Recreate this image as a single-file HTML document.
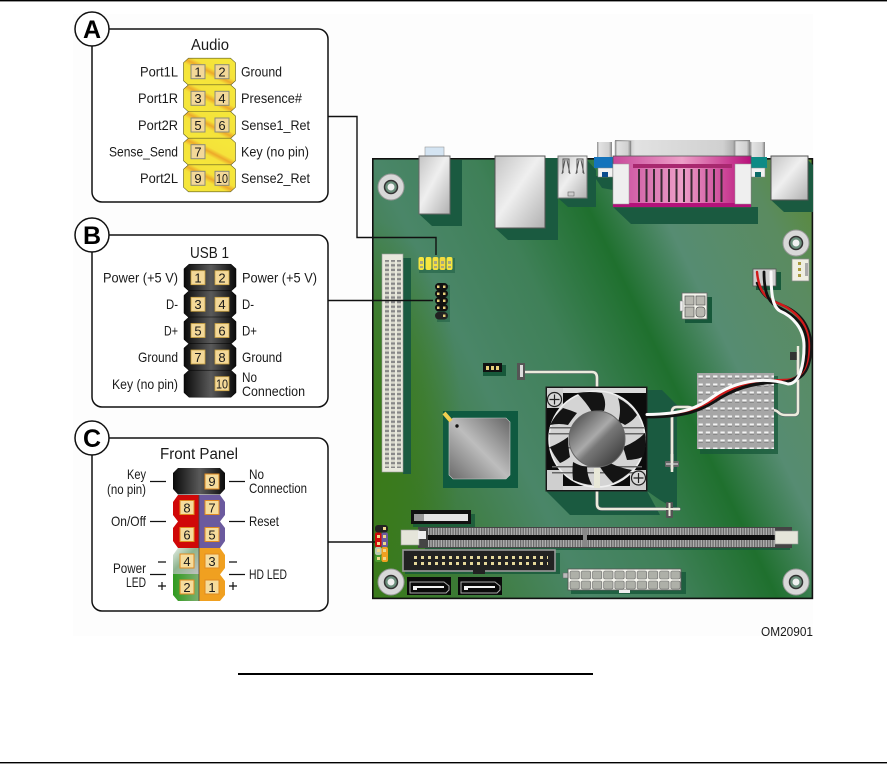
<!DOCTYPE html>
<html><head><meta charset="utf-8"><style>
html,body{margin:0;padding:0;background:#fff}
svg{display:block}
text{font-family:"Liberation Sans",sans-serif;fill:#1a1a1a}
.l{font-size:14px}
.t{font-size:15.5px}
.p{font-size:13px;text-anchor:middle}
.c{font-size:25px;font-weight:bold;text-anchor:middle;fill:#000}
</style></head><body>
<svg width="887" height="764" viewBox="0 0 887 764" xmlns="http://www.w3.org/2000/svg">
<defs>
<linearGradient id="board" gradientUnits="userSpaceOnUse" x1="372" y1="599" x2="902" y2="342">
<stop offset="0" stop-color="#3a7a1e"/><stop offset=".14" stop-color="#3b7a34"/><stop offset=".33" stop-color="#4a8668"/><stop offset=".48" stop-color="#3f8058"/><stop offset=".62" stop-color="#1f702e"/><stop offset=".73" stop-color="#568c72"/><stop offset=".89" stop-color="#5a8b60"/><stop offset="1" stop-color="#5a8a30"/>
</linearGradient>
<radialGradient id="leftg" gradientUnits="userSpaceOnUse" cx="0" cy="0" r="1" gradientTransform="translate(372 430) scale(90 210)"><stop offset="0" stop-color="#3a7a12" stop-opacity=".85"/><stop offset=".6" stop-color="#3a7a12" stop-opacity=".45"/><stop offset="1" stop-color="#3a7a12" stop-opacity="0"/></radialGradient>
<linearGradient id="metal" x1="0" y1="0" x2="1" y2="1"><stop offset="0" stop-color="#c4c4c4"/><stop offset=".45" stop-color="#efefef"/><stop offset="1" stop-color="#b0b0b0"/></linearGradient>
<linearGradient id="chipg" x1="0" y1="1" x2="1" y2="0"><stop offset="0" stop-color="#6a6a6a"/><stop offset=".5" stop-color="#bdbdbd"/><stop offset="1" stop-color="#666"/></linearGradient>
<linearGradient id="hub" x1="0" y1="0" x2="1" y2="1"><stop offset="0" stop-color="#3a3a3a"/><stop offset=".45" stop-color="#aaa"/><stop offset=".55" stop-color="#777"/><stop offset="1" stop-color="#2c2c2c"/></linearGradient>
<linearGradient id="yel" x1=".2" y1=".8" x2=".8" y2=".2"><stop offset="0" stop-color="#f5e63a"/><stop offset=".36" stop-color="#f5e23a"/><stop offset=".5" stop-color="#eda92a"/><stop offset=".64" stop-color="#f5e23a"/><stop offset="1" stop-color="#f5e63a"/></linearGradient>
<linearGradient id="blk" x1="0" y1="0" x2="1" y2="0"><stop offset="0" stop-color="#0a0a0a"/><stop offset=".52" stop-color="#5a5a5a"/><stop offset="1" stop-color="#0a0a0a"/></linearGradient>
<linearGradient id="gw" x1="0" y1="0" x2="1" y2="1"><stop offset="0" stop-color="#e6eee6"/><stop offset=".45" stop-color="#8fb58f"/><stop offset="1" stop-color="#c2c2c2"/></linearGradient>
<linearGradient id="gg" x1="0" y1="0" x2="1" y2="0"><stop offset="0" stop-color="#2f9a1e"/><stop offset="1" stop-color="#7eaf70"/></linearGradient>
<linearGradient id="mag" x1="0" y1="0" x2="1" y2="0"><stop offset="0" stop-color="#c8489a"/><stop offset=".5" stop-color="#eda0c8"/><stop offset="1" stop-color="#b8107a"/></linearGradient>
<linearGradient id="top" x1="0" y1="0" x2="1" y2="0"><stop offset="0" stop-color="#8a8a8a"/><stop offset=".15" stop-color="#e2e2e2"/><stop offset=".8" stop-color="#d0d0d0"/><stop offset="1" stop-color="#808080"/></linearGradient>
<polygon id="row" points="-21,-13.5 21,-13.5 26,-9 26,9 21,13.5 -21,13.5 -26,9 -26,-9"/>
<pattern id="hs" patternUnits="userSpaceOnUse" x="697" y="373" width="7.3" height="8">
<rect width="7.3" height="8" fill="#a6a6a6"/><rect x="1.5" y="2.5" width="4.3" height="2.2" fill="#f4f4f4"/><rect x="1.5" y="4.7" width="4.3" height=".8" fill="#6a6a6a"/></pattern>
<pattern id="pci" patternUnits="userSpaceOnUse" x="0" y="254" width="4" height="4.6">
<rect width="4" height="4.6" fill="#d8d8cc"/><rect y="1" width="4" height="2.2" fill="#888"/></pattern>
<pattern id="dm" patternUnits="userSpaceOnUse" x="0" y="0" width="2.6" height="5">
<rect width="2.6" height="5" fill="#b0b0b0"/><rect width="1.3" height="5" fill="#6a6a6a"/></pattern>
<pattern id="ide" patternUnits="userSpaceOnUse" x="414" y="555" width="7" height="6">
<rect x="0" y="1" width="3" height="3" fill="#e5d79a"/></pattern>
<pattern id="atx" patternUnits="userSpaceOnUse" x="569" y="570" width="11.2" height="10">
<rect width="11.2" height="10" fill="#f4f4ec"/><rect x="1" y="1" width="9.4" height="8" rx="1.5" fill="#aeb0a8" stroke="#666" stroke-width=".6"/></pattern>
</defs>

<rect width="887" height="764" fill="#fff"/>
<rect x="73" y="14" width="740" height="622" fill="#fdfdfd"/>
<rect x="0" y="0" width="887" height="1.4" fill="#000"/>
<rect x="0" y="762" width="887" height="1.4" fill="#000"/>
<rect x="238" y="673" width="355" height="2" fill="#000"/>

<!-- rear top parts -->
<rect x="425" y="147" width="19" height="10" fill="#d4e4f2" stroke="#999" stroke-width=".6"/>
<rect x="597" y="142" width="15" height="15" fill="url(#top)"/>
<rect x="750" y="142" width="15" height="15" fill="url(#top)"/>
<rect x="615" y="140" width="135" height="17" fill="url(#top)"/>
<rect x="615" y="141" width="16" height="16" fill="url(#top)" stroke="#888" stroke-width=".4"/>
<rect x="734" y="141" width="16" height="16" fill="url(#top)" stroke="#888" stroke-width=".4"/>

<!-- board -->
<rect x="372" y="158" width="441" height="441" fill="url(#board)"/>
<rect x="372" y="220" width="100" height="379" fill="url(#leftg)"/>
<rect x="372.8" y="158.8" width="439.6" height="439.6" fill="none" stroke="#111" stroke-width="1.6"/>

<!-- shadows -->
<g fill="#1a5a40">
<polygon points="450,160 462,160 462,226 432,226 419,214 450,214"/>
<polygon points="545,158 558,158 558,240 508,240 495,228 545,228"/>
<polygon points="587,160 596,170 596,207 568,207 558,198 587,198"/>
<polygon points="613,207 751,207 758,207 758,224 631,224"/>
<polygon points="594,176 613,176 613,190 602,188"/>
<polygon points="808,160 813,165 813,212 784,212 771,200 808,200"/>
<rect x="403" y="258" width="8" height="216"/>
<polygon points="647,390 662,390 677,405 677,510 660,500 647,491"/>
<polygon points="546,491 647,491 660,515 570,515"/>
</g>
<g fill="#17583a">
<rect x="685" y="297" width="27" height="26"/>
<rect x="756" y="272" width="25" height="18"/>
<rect x="700" y="376" width="78" height="78" opacity=".75"/>
<rect x="413" y="514" width="62" height="13" opacity=".8"/>
<rect x="405" y="553" width="155" height="21" opacity=".8"/>
<rect x="571" y="572" width="115" height="22" opacity=".8"/>
<rect x="425" y="546" width="365" height="4" opacity=".8"/>
<rect x="483" y="365" width="23" height="11"/>
</g>

<!-- rear connectors -->
<rect x="419" y="156" width="31" height="58" fill="url(#metal)" stroke="#666"/>
<rect x="495" y="156" width="50" height="72" fill="url(#metal)" stroke="#555"/>
<rect x="558" y="156" width="29" height="42" fill="url(#metal)" stroke="#777"/>
<path d="M563 173V159h6v14M565 160l-3 14M567 160l3 14M577 173V159h6v14M579 160l-3 14M581 160l3 14" fill="none" stroke="#555" stroke-width="1"/>
<rect x="568" y="192" width="6" height="4" fill="#ccc" stroke="#666" stroke-width=".6"/>
<rect x="771" y="156" width="37" height="44" fill="url(#metal)" stroke="#555"/>
<!-- blue / teal -->
<rect x="594" y="157" width="19" height="11" fill="#1474bc"/>
<rect x="598" y="168" width="15" height="9" fill="#f2f2f2" stroke="#888" stroke-width=".5"/>
<rect x="602" y="172" width="6" height="5" fill="#0b4d8e"/>
<rect x="751" y="157" width="16" height="11" fill="#0e8b85"/>
<rect x="751" y="168" width="14" height="9" fill="#f2f2f2" stroke="#888" stroke-width=".5"/>
<rect x="755" y="172" width="6" height="5" fill="#0b6b66"/>
<!-- parallel -->
<rect x="613" y="156" width="138" height="51" fill="url(#mag)" stroke="#555" stroke-width=".8"/>
<rect x="613" y="203" width="138" height="4" fill="#b3127a"/>
<rect x="613" y="164" width="16" height="40" fill="#efefef" stroke="#999" stroke-width=".5"/>
<rect x="735" y="164" width="16" height="40" fill="#efefef" stroke="#999" stroke-width=".5"/>
<rect x="633" y="164" width="99" height="4" fill="#a8286f"/>
<g fill="#3a2a33"><rect x="638" y="169" width="2" height="33"/><rect x="645.500" y="169" width="2" height="33"/><rect x="653" y="169" width="2" height="33"/><rect x="660.500" y="169" width="2" height="33"/><rect x="668" y="169" width="2" height="33"/><rect x="675.500" y="169" width="2" height="33"/><rect x="683" y="169" width="2" height="33"/><rect x="690.500" y="169" width="2" height="33"/><rect x="698" y="169" width="2" height="33"/><rect x="705.500" y="169" width="2" height="33"/><rect x="713" y="169" width="2" height="33"/><rect x="720.500" y="169" width="2" height="33"/></g>

<!-- standoffs -->
<g><circle cx="391" cy="187" r="13" fill="#d8d8d8" stroke="#999"/><circle cx="391" cy="187" r="6.5" fill="#6b8f7c" stroke="#333" stroke-width="1.5"/><circle cx="391" cy="187" r="3.5" fill="#f0f0f0"/></g>
<g><circle cx="796" cy="243" r="13" fill="#d8d8d8" stroke="#999"/><circle cx="796" cy="243" r="6.5" fill="#6b8f7c" stroke="#333" stroke-width="1.5"/><circle cx="796" cy="243" r="3.5" fill="#f0f0f0"/></g>
<g><circle cx="391" cy="582" r="13" fill="#d8d8d8" stroke="#999"/><circle cx="391" cy="582" r="6.5" fill="#6b8f7c" stroke="#333" stroke-width="1.5"/><circle cx="391" cy="582" r="3.5" fill="#f0f0f0"/></g>
<g><circle cx="796" cy="582" r="13" fill="#d8d8d8" stroke="#999"/><circle cx="796" cy="582" r="6.5" fill="#6b8f7c" stroke="#333" stroke-width="1.5"/><circle cx="796" cy="582" r="3.5" fill="#f0f0f0"/></g>

<!-- PCI slot -->
<rect x="382" y="254" width="21" height="218" fill="#e8e8dc" stroke="#999" stroke-width=".6"/>
<rect x="385" y="260" width="4" height="208" fill="url(#pci)"/>
<rect x="391" y="260" width="4" height="208" fill="url(#pci)"/>
<rect x="397" y="260" width="4" height="208" fill="url(#pci)"/>

<!-- on-board headers -->
<g>
<rect x="419" y="258" width="36" height="15" fill="#1a5a40" opacity=".5"/>
<rect x="418.500" y="257" width="5.500" height="13" rx="2" fill="#f5e640"/><rect x="425.500" y="257" width="6" height="13" rx="2" fill="#f5e640"/><rect x="432.500" y="257" width="6" height="13" rx="2" fill="#f5e040"/><rect x="439.500" y="257" width="6" height="13" rx="2" fill="#f3da40"/><rect x="446.500" y="257" width="6" height="13" rx="2" fill="#f5e640"/>
<g fill="#a8a880"><rect x="420" y="261" width="3" height="3"/><rect x="420" y="266" width="3" height="2"/><rect x="434" y="261" width="3" height="3"/><rect x="434" y="266" width="3" height="2"/><rect x="441" y="261" width="3" height="3"/><rect x="441" y="266" width="3" height="2"/><rect x="448" y="261" width="3" height="3"/><rect x="448" y="266" width="3" height="2"/></g>
</g>
<g>
<rect x="437" y="285" width="13" height="37" fill="#1a5a40" opacity=".5"/>
<rect x="435" y="283" width="13" height="7.500" rx="3.700" fill="#111"/><rect x="435" y="290" width="13" height="7.500" rx="3.700" fill="#111"/><rect x="435" y="297" width="13" height="7.500" rx="3.700" fill="#111"/><rect x="435" y="304" width="13" height="7.500" rx="3.700" fill="#111"/><rect x="435" y="312" width="13" height="7.500" rx="3.700" fill="#222"/>
<g fill="#e8d07a"><rect x="437" y="285.500" width="2.500" height="2.500"/><rect x="443" y="285.500" width="2.500" height="2.500"/><rect x="437" y="292.500" width="2.500" height="2.500"/><rect x="443" y="292.500" width="2.500" height="2.500"/><rect x="437" y="299.500" width="2.500" height="2.500"/><rect x="443" y="299.500" width="2.500" height="2.500"/><rect x="437" y="306.500" width="2.500" height="2.500"/><rect x="443" y="306.500" width="2.500" height="2.500"/><rect x="443" y="314.500" width="2.500" height="2.500"/></g>
</g>
<!-- front panel mini -->
<g>
<rect x="375" y="525" width="13" height="7.500" rx="3" fill="#222"/>
<rect x="375" y="532.500" width="6.500" height="14.500" rx="2" fill="#d00a0a"/><rect x="381.500" y="532.500" width="6.500" height="14.500" rx="2" fill="#6a5a9e"/>
<rect x="375" y="547" width="6.500" height="8" rx="2" fill="#b9c9b0"/><rect x="375" y="555" width="6.500" height="7" rx="2" fill="#4a9a30"/><rect x="381.500" y="547" width="6.500" height="15" rx="2" fill="#f0a020"/>
<g fill="#efd98a"><rect x="383" y="527" width="3" height="3"/><rect x="377" y="535" width="3" height="3"/><rect x="383" y="535" width="3" height="3"/><rect x="377" y="542" width="3" height="3"/><rect x="383" y="542" width="3" height="3"/><rect x="377" y="549" width="3" height="3"/><rect x="383" y="549" width="3" height="3"/><rect x="377" y="557" width="3" height="3"/><rect x="383" y="557" width="3" height="3"/></g>
</g>

<!-- jumper & chip -->
<rect x="483" y="363" width="19" height="9" fill="#111"/>
<g fill="#e8d07a"><rect x="486" y="366" width="3" height="4"/><rect x="491" y="366" width="3" height="4"/><rect x="496" y="366" width="3" height="4"/></g>
<rect x="443" y="411" width="75" height="77" fill="#0f5a40"/>
<polygon points="453,418 506,418 510,422 510,475 506,479 453,479 449,475 449,422" fill="url(#chipg)" stroke="#ccc" stroke-width=".6"/>
<circle cx="457" cy="426" r="1.7" fill="#111"/>
<path d="M444 413l7 8" stroke="#f0cf50" stroke-width="4"/>

<!-- white pipes -->
<g fill="none" stroke-linecap="round" stroke-linejoin="round">
<path d="M524 372H592Q597 372 597 378V388M597 490V504Q597 509 602 509H679M672 468V412Q672 407 677 407H688Q692 407 694 410H772Q776 410 778 412Q781 415 785 415H794Q798 415 798 411V352" stroke="#556" stroke-width="4" opacity=".55"/>
<path d="M524 372H592Q597 372 597 378V388M597 490V504Q597 509 602 509H679M672 468V412Q672 407 677 407H688Q692 407 694 410H772Q776 410 778 412Q781 415 785 415H794Q798 415 798 411V352" stroke="#ecebdc" stroke-width="2.6"/>
</g>
<rect x="517" y="363" width="8" height="17" fill="#555"/><rect x="520" y="365" width="3" height="12" fill="#ddd"/>
<rect x="665" y="461" width="14" height="6" rx="1" fill="#666"/><path d="M672 454V472" stroke="#ecebdc" stroke-width="2.600"/><path d="M666 464H678" stroke="#ddd" stroke-width="1.200"/>
<rect x="666" y="502" width="7" height="16" rx="1" fill="#555"/><path d="M662 509H680M669.500 503V516" stroke="#ecebdc" stroke-width="2"/>
<rect x="790" y="352" width="8" height="8" fill="#333"/><path d="M798 346V370" stroke="#ecebdc" stroke-width="2.400"/>

<!-- heat sink -->
<rect x="697" y="373" width="77" height="76" fill="url(#hs)"/>

<!-- fan -->
<rect x="546" y="387" width="101" height="104" fill="#0c0c0c"/>
<rect x="547" y="388" width="99" height="5" fill="#dadada"/>
<rect x="547" y="486" width="99" height="4" fill="#dadada"/>
<rect x="547" y="388" width="16" height="20" fill="#cfcfcf"/><rect x="630" y="388" width="16" height="20" fill="#cfcfcf" opacity="0"/>
<rect x="547" y="470" width="16" height="20" fill="#cfcfcf"/><rect x="630" y="470" width="16" height="20" fill="#cfcfcf"/>
<circle cx="597" cy="439" r="48" fill="#d4d4d4" stroke="#f0f0f0" stroke-width="1.500"/>
<g fill="#666"><rect x="549" y="427" width="96" height="1.500"/><rect x="549" y="433" width="96" height="1.500"/><rect x="549" y="447" width="96" height="1.500"/><rect x="552" y="466" width="90" height="1.500"/><rect x="552" y="472" width="90" height="1.500"/></g>
<rect x="594" y="468" width="6" height="20" fill="#e8e8d8"/>
<g fill="#141414">
<path d="M577 393Q590 391 602 393Q607 402 604 411Q597 410 592 412Q586 402 577 393Z"/>
<path d="M618 398Q630 404 637 415Q633 421 625 425Q622 423 618 422Q622 410 618 398Z"/>
<path d="M645 433Q647 446 643 457Q635 460 627 460Q625 453 623 447Q636 442 645 433Z"/>
<path d="M632 470Q624 478 613 483Q605 475 600 467Q605 464 610 463Q620 468 632 470Z"/>
<path d="M592 485Q582 484 573 480Q572 471 573 462Q580 466 587 467Q587 476 592 485Z"/>
<path d="M550 447Q554 456 560 463Q565 461 570 457Q568 447 568 437Q560 443 550 447Z"/>
<path d="M550 425Q555 415 563 408Q570 410 577 413Q572 419 568 425Q559 423 550 425Z"/>
</g>
<circle cx="597" cy="439" r="28" fill="url(#hub)" stroke="#666"/>
<circle cx="554.500" cy="399.500" r="7" fill="#d8d8d8" stroke="#222" stroke-width="1.200"/><path d="M549.500 399.500h10M554.500 394.500v10" stroke="#222" stroke-width="1.200"/>
<circle cx="638.500" cy="478" r="7" fill="#d8d8d8" stroke="#222" stroke-width="1.200"/><path d="M633.500 478h10M638.500 473v10" stroke="#222" stroke-width="1.200"/>
<rect x="546" y="387" width="101" height="104" fill="none" stroke="#222" stroke-width="1"/>

<!-- fan connector (under wires) -->
<rect x="753" y="269" width="23" height="17" fill="#cfcfcf" stroke="#555" stroke-width=".8"/>

<!-- cables -->
<g fill="none" stroke-linejoin="round" stroke-linecap="round">
<path d="M647 416.500C690 416 704 409 722 397C742 386 758 383 784 382C806 382 811 365 811 346C811 326 800 312 782 305C774 301 764 300 757 283" stroke="#151515" stroke-width="2.500"/>
<path d="M648 416C690 415 702 407 720 395C740 384 758 381 784 380C804 380 809 364 809 346C809 326 798 312 780 304C768 300 759 294 757 272" stroke="#d01a1a" stroke-width="2.400"/>
<path d="M647 417C688 417 702 410 720 398C742 385 758 382 782 382C803 381 807 364 807 346C807 326 796 316 780 308C770 304 764 296 764 272" stroke="#111" stroke-width="2.800"/>
<path d="M647 414.500C684 414 698 408 714 396C734 382 762 376 788 384C800 384 804 364 804 346C804 328 792 316 780 311C773 307 771 296 771 272" stroke="#fafafa" stroke-width="3"/>
</g>
<rect x="792" y="259" width="17" height="22" fill="#efefe2" stroke="#888" stroke-width=".7"/>
<g fill="#aa9b40"><rect x="798" y="262" width="3" height="3"/><rect x="798" y="268" width="3" height="3"/><rect x="798" y="274" width="3" height="3"/></g>
<rect x="805" y="263" width="3" height="13" fill="#aaa"/>

<!-- 4-pin -->
<rect x="682" y="293" width="25" height="26" fill="#f4f4ec" stroke="#666" stroke-width=".8"/>
<rect x="680" y="301" width="3" height="10" fill="#eee" stroke="#888" stroke-width=".5"/>
<g fill="#b8b8b0" stroke="#555" stroke-width=".7"><rect x="685" y="296" width="9" height="9"/><rect x="696" y="296" width="9" height="9"/><rect x="685" y="307" width="9" height="10"/><rect x="696" y="307" width="9" height="10" rx="3"/></g>

<!-- battery thing -->
<rect x="411" y="510" width="60" height="14" fill="#111"/>
<rect x="414" y="514" width="54" height="7" fill="#e4e4e4"/><rect x="414" y="514" width="10" height="7" fill="#999"/>

<!-- DIMM -->
<rect x="418" y="527" width="374" height="21" fill="#444"/>
<rect x="428" y="528" width="347" height="7" fill="url(#dm)"/>
<rect x="428" y="535" width="347" height="5" fill="#0c0c0c"/>
<rect x="428" y="540" width="347" height="7" fill="url(#dm)"/>
<rect x="583" y="528" width="4" height="19" fill="#888"/>
<rect x="401" y="530" width="18" height="15" fill="#e5e5da" stroke="#999" stroke-width=".6"/>
<rect x="418" y="531" width="8" height="8" fill="#eee"/>
<rect x="775" y="531" width="23" height="13" fill="#e5e5da" stroke="#999" stroke-width=".6"/>

<!-- IDE -->
<rect x="403" y="550" width="152" height="21" fill="#222" stroke="#999" stroke-width="1.600"/>
<rect x="414" y="555" width="134" height="12" fill="url(#ide)"/>
<rect x="473" y="570" width="12" height="4" fill="#222"/>

<!-- SATA -->
<rect x="407" y="577" width="44" height="18" fill="#0a0a0a"/>
<path d="M410 582H444L449 586V590L446 593H410Z" fill="none" stroke="#aaa" stroke-width="1"/><path d="M413 590V586H444V588H417V590Z" fill="#f2f2f2"/>
<rect x="458" y="577" width="44" height="18" fill="#0a0a0a"/>
<path d="M461 582H495L500 586V590L497 593H461Z" fill="none" stroke="#aaa" stroke-width="1"/><path d="M464 590V586H495V588H468V590Z" fill="#f2f2f2"/>

<!-- ATX -->
<rect x="563" y="573" width="5" height="5" fill="#bbb" stroke="#666" stroke-width=".5"/>
<rect x="568" y="569" width="113" height="21" fill="url(#atx)" stroke="#555" stroke-width=".8"/>
<rect x="619" y="590" width="11" height="3" fill="#eee"/>

<text x="761" y="636" style="font-size:12.500px" textLength="52" lengthAdjust="spacingAndGlyphs">OM20901</text>

<!-- connector lines -->
<path d="M328 116.500H357V237.500H436V255" fill="none" stroke="#111" stroke-width="1.400"/>
<path d="M328 300.500H433" fill="none" stroke="#111" stroke-width="1.400"/>
<path d="M328 542H375" fill="none" stroke="#111" stroke-width="1.400"/>

<!-- Panel A -->
<rect x="92" y="29" width="236" height="173" rx="10" fill="#fff" stroke="#111" stroke-width="1.500"/>
<circle cx="92" cy="29" r="17" fill="#fff" stroke="#111" stroke-width="1.500"/>
<text class="c" x="92" y="38">A</text>
<text class="t" x="191" y="50" textLength="38" lengthAdjust="spacingAndGlyphs">Audio</text>
<g fill="url(#yel)" stroke="#5a5a20" stroke-width=".6">
<use href="#row" transform="translate(209.500,71.700)"/><use href="#row" transform="translate(209.500,98.300)"/><use href="#row" transform="translate(209.500,125)"/><use href="#row" transform="translate(209.500,151.700)"/><use href="#row" transform="translate(209.500,178.300)"/>
</g>
<g fill="#f3d898" stroke="#8a8a7a" stroke-width="1">
<rect x="191" y="64.700" width="14" height="14"/><rect x="215" y="64.700" width="14" height="14"/><rect x="191" y="91.300" width="14" height="14"/><rect x="215" y="91.300" width="14" height="14"/><rect x="191" y="118" width="14" height="14"/><rect x="215" y="118" width="14" height="14"/><rect x="191" y="144.700" width="14" height="14"/><rect x="191" y="171.300" width="14" height="14"/><rect x="215" y="171.300" width="14" height="14"/>
</g>
<g>
<text class="p" x="198" y="76.500">1</text><text class="p" x="222" y="76.500">2</text><text class="p" x="198" y="103">3</text><text class="p" x="222" y="103">4</text><text class="p" x="198" y="130">5</text><text class="p" x="222" y="130">6</text><text class="p" x="198" y="156.500">7</text><text class="p" x="198" y="183">9</text><text class="p" x="222" y="183" textLength="12" lengthAdjust="spacingAndGlyphs">10</text>
</g>
<g>
<text class="l" x="140" y="76.500" textLength="38" lengthAdjust="spacingAndGlyphs">Port1L</text>
<text class="l" x="138" y="103" textLength="40" lengthAdjust="spacingAndGlyphs">Port1R</text>
<text class="l" x="138" y="130" textLength="40" lengthAdjust="spacingAndGlyphs">Port2R</text>
<text class="l" x="109" y="156.500" textLength="69" lengthAdjust="spacingAndGlyphs">Sense_Send</text>
<text class="l" x="140" y="183" textLength="38" lengthAdjust="spacingAndGlyphs">Port2L</text>
<text class="l" x="241" y="76.500" textLength="41" lengthAdjust="spacingAndGlyphs">Ground</text>
<text class="l" x="241" y="103" textLength="61" lengthAdjust="spacingAndGlyphs">Presence#</text>
<text class="l" x="241" y="130" textLength="69" lengthAdjust="spacingAndGlyphs">Sense1_Ret</text>
<text class="l" x="241" y="156.500" textLength="68" lengthAdjust="spacingAndGlyphs">Key (no pin)</text>
<text class="l" x="241" y="183" textLength="69" lengthAdjust="spacingAndGlyphs">Sense2_Ret</text>
</g>

<!-- Panel B -->
<rect x="92" y="235" width="236" height="172" rx="10" fill="#fff" stroke="#111" stroke-width="1.500"/>
<circle cx="92" cy="235" r="17" fill="#fff" stroke="#111" stroke-width="1.500"/>
<text class="c" x="92" y="244">B</text>
<text class="t" x="190" y="258" textLength="39" lengthAdjust="spacingAndGlyphs">USB 1</text>
<g fill="url(#blk)" stroke="#000" stroke-width=".5">
<use href="#row" transform="translate(210,277.700)"/><use href="#row" transform="translate(210,304.300)"/><use href="#row" transform="translate(210,330.500)"/><use href="#row" transform="translate(210,357)"/><use href="#row" transform="translate(210,383.700)"/>
</g>
<g fill="#f3d898" stroke="#c8a040" stroke-width=".8">
<rect x="191" y="270.700" width="14" height="14"/><rect x="215" y="270.700" width="14" height="14"/><rect x="191" y="297.300" width="14" height="14"/><rect x="215" y="297.300" width="14" height="14"/><rect x="191" y="323.500" width="14" height="14"/><rect x="215" y="323.500" width="14" height="14"/><rect x="191" y="350" width="14" height="14"/><rect x="215" y="350" width="14" height="14"/><rect x="215" y="376.700" width="14" height="14"/>
</g>
<text class="p" x="198" y="282.500">1</text><text class="p" x="222" y="282.500">2</text><text class="p" x="198" y="309">3</text><text class="p" x="222" y="309">4</text><text class="p" x="198" y="335.500">5</text><text class="p" x="222" y="335.500">6</text><text class="p" x="198" y="362">7</text><text class="p" x="222" y="362">8</text><text class="p" x="222" y="388.500" textLength="12" lengthAdjust="spacingAndGlyphs">10</text>
<text class="l" x="103" y="282.500" textLength="75" lengthAdjust="spacingAndGlyphs">Power (+5 V)</text>
<text class="l" x="166" y="309" textLength="12" lengthAdjust="spacingAndGlyphs">D-</text>
<text class="l" x="164" y="335.500" textLength="14" lengthAdjust="spacingAndGlyphs">D+</text>
<text class="l" x="138" y="362" textLength="40" lengthAdjust="spacingAndGlyphs">Ground</text>
<text class="l" x="112" y="389" textLength="66" lengthAdjust="spacingAndGlyphs">Key (no pin)</text>
<text class="l" x="242" y="282.500" textLength="75" lengthAdjust="spacingAndGlyphs">Power (+5 V)</text>
<text class="l" x="242" y="309" textLength="12" lengthAdjust="spacingAndGlyphs">D-</text>
<text class="l" x="242" y="335.500" textLength="15" lengthAdjust="spacingAndGlyphs">D+</text>
<text class="l" x="242" y="362" textLength="40" lengthAdjust="spacingAndGlyphs">Ground</text>
<text class="l" x="242" y="382" textLength="15" lengthAdjust="spacingAndGlyphs">No</text>
<text class="l" x="242" y="396" textLength="63" lengthAdjust="spacingAndGlyphs">Connection</text>

<!-- Panel C -->
<rect x="92" y="438" width="236" height="173" rx="10" fill="#fff" stroke="#111" stroke-width="1.500"/>
<circle cx="92" cy="438" r="17" fill="#fff" stroke="#111" stroke-width="1.500"/>
<text class="c" x="92" y="447">C</text>
<text class="t" x="160" y="459" textLength="78" lengthAdjust="spacingAndGlyphs">Front Panel</text>
<polygon points="178,468 220,468 225,473 225,489 220,494.500 178,494.500 173,489 173,473" fill="url(#blk)"/>
<polygon points="178,495 199,495 199,548 178,548 173,541 173,528 178,521.500 173,515 173,502" fill="#d00808"/>
<polygon points="199,495 220,495 225,502 225,515 220,521.500 225,528 225,541 220,548 199,548" fill="#6b5a9e"/>
<polygon points="178,548 199,548 199,574 173,574 173,555" fill="url(#gw)"/>
<polygon points="173,574 199,574 199,601 178,601 173,595 173,581" fill="url(#gg)"/>
<polygon points="199,548 220,548 225,555 225,568 220,574.500 225,581 225,595 220,601 199,601" fill="#f0a020"/>
<path d="M199 495V601" stroke="#444" stroke-width=".8"/>
<g fill="#f5dc9c" stroke="#e08a20" stroke-width="1">
<rect x="205" y="474" width="14" height="15"/><rect x="180" y="500.500" width="14" height="14"/><rect x="205" y="500.500" width="14" height="14"/><rect x="180" y="527.500" width="14" height="14"/><rect x="205" y="527.500" width="14" height="14"/><rect x="180" y="554" width="14" height="14"/><rect x="205" y="554" width="14" height="14"/><rect x="180" y="580" width="14" height="14"/><rect x="205" y="580" width="14" height="14"/>
</g>
<text class="p" x="212" y="486">9</text><text class="p" x="187" y="512.500">8</text><text class="p" x="212" y="512.500">7</text><text class="p" x="187" y="539.500">6</text><text class="p" x="212" y="539.500">5</text><text class="p" x="187" y="566">4</text><text class="p" x="212" y="566">3</text><text class="p" x="187" y="592">2</text><text class="p" x="212" y="592">1</text>
<g stroke="#111" stroke-width="1.200" fill="none">
<path d="M150 481.500H166M229 481.500H245M150 521.500H166M229 521.500H245M158 562H166M229 562H237M150 574.500H166M229 574.500H245M158 586H166M162 582V590M229 586H237M233 582V590"/>
</g>
<text class="l" x="127" y="479" textLength="19" lengthAdjust="spacingAndGlyphs">Key</text>
<text class="l" x="107" y="494" textLength="39" lengthAdjust="spacingAndGlyphs">(no pin)</text>
<text class="l" x="111" y="526" textLength="35" lengthAdjust="spacingAndGlyphs">On/Off</text>
<text class="l" x="113" y="573" textLength="33" lengthAdjust="spacingAndGlyphs">Power</text>
<text class="l" x="126" y="587" textLength="20" lengthAdjust="spacingAndGlyphs">LED</text>
<text class="l" x="249" y="479" textLength="15" lengthAdjust="spacingAndGlyphs">No</text>
<text class="l" x="249" y="493" textLength="58" lengthAdjust="spacingAndGlyphs">Connection</text>
<text class="l" x="249" y="526" textLength="30" lengthAdjust="spacingAndGlyphs">Reset</text>
<text class="l" x="249" y="579" textLength="38" lengthAdjust="spacingAndGlyphs">HD LED</text>
</svg>
</body></html>
